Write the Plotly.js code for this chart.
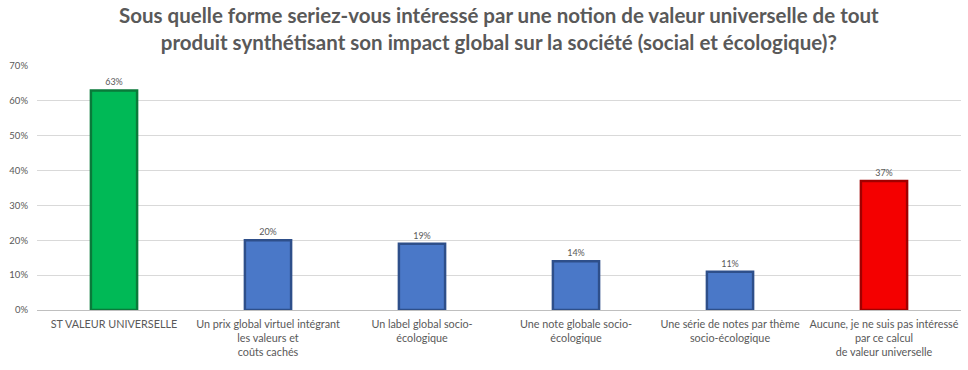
<!DOCTYPE html>
<html><head><meta charset="utf-8">
<script src="https://cdn.plot.ly/plotly-3.0.1.min.js"></script>
<style>html,body{margin:0;padding:0;background:#fff}</style>
</head><body>
<div id="chart" style="width:968px;height:370px"></div>
<script>
const titleText = "<b>Sous quelle forme seriez-vous intéressé par une notion de valeur universelle de tout<br>produit synthétisant son impact global sur la société (social et écologique)?</b>";
const categories = [
  "ST VALEUR UNIVERSELLE",
  "Un prix global virtuel intégrant<br>les valeurs et<br>coûts cachés",
  "Un label global socio-<br>écologique",
  "Une note globale socio-<br>écologique",
  "Une série de notes par thème<br>socio-écologique",
  "Aucune, je ne suis pas intéressé<br>par ce calcul<br>de valeur universelle"
];
const values = [0.63, 0.20, 0.19, 0.14, 0.11, 0.37];
const labels = ["63%", "20%", "19%", "14%", "11%", "37%"];
const fillColors = ["#00B956", "#4A78C8", "#4A78C8", "#4A78C8", "#4A78C8", "#F40000"];
const edgeColors = ["#0A7A3A", "#2E4F8A", "#2E4F8A", "#2E4F8A", "#2E4F8A", "#A00000"];
const yTicks = [0, 0.1, 0.2, 0.3, 0.4, 0.5, 0.6, 0.7];

const trace = {
  type: "bar",
  x: categories,
  y: values,
  text: labels,
  textposition: "outside",
  cliponaxis: false,
  textfont: {family: "Lato, Carlito, sans-serif", size: 9, color: "#595959"},
  marker: {color: fillColors, line: {color: edgeColors, width: 2.5}},
  width: 0.3,
  hoverinfo: "none"
};

const layout = {
  width: 968, height: 370,
  margin: {l: 37, r: 7, t: 66, b: 60},
  paper_bgcolor: "#fff", plot_bgcolor: "#fff",
  annotations: [{
    text: titleText,
    xref: "paper", yref: "paper",
    x: 0.5, xanchor: "center",
    y: 1.155, yanchor: "middle",
    showarrow: false,
    font: {family: "Lato, Carlito, sans-serif", size: 20.5, color: "#595959"}
  }],
  xaxis: {
    tickfont: {family: "Lato, Carlito, sans-serif", size: 10.8, color: "#595959"},
    showline: false, ticks: "", showgrid: false, ticklabelstandoff: 6
  },
  yaxis: {
    range: [0, 0.7],
    tickvals: yTicks,
    tickformat: ".0%",
    tickfont: {family: "Lato, Carlito, sans-serif", size: 9.5, color: "#595959"},
    gridcolor: "#D9D9D9", gridwidth: 1,
    zeroline: true, zerolinecolor: "#BFBFBF", zerolinewidth: 1,
    showline: false, ticks: "", ticklabelstandoff: 8
  },
  bargap: 0.7,
  showlegend: false
};

Plotly.newPlot("chart", [trace], layout, {displayModeBar: false, staticPlot: true});
</script>
</body></html>
